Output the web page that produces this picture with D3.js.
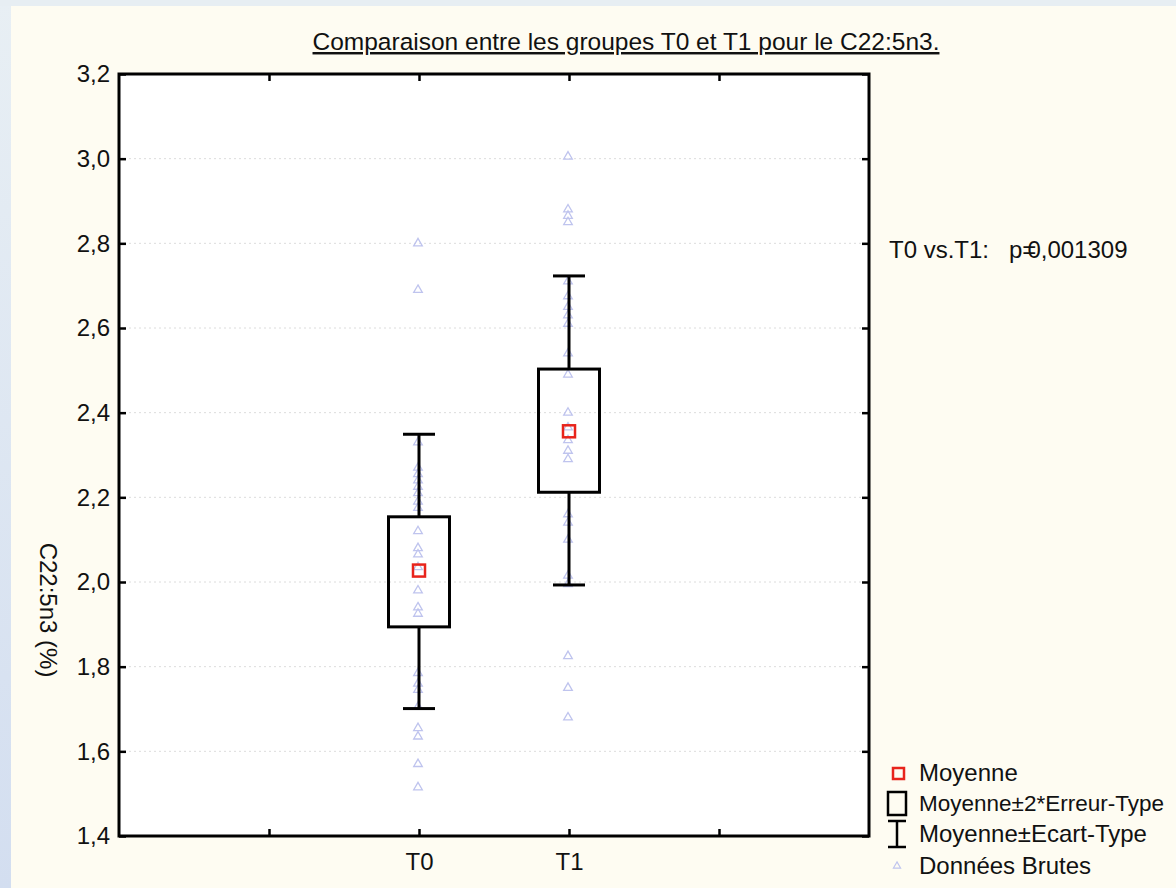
<!DOCTYPE html>
<html>
<head>
<meta charset="utf-8">
<script src="https://cdnjs.cloudflare.com/ajax/libs/d3/7.8.5/d3.min.js"></script>
<style>
body { margin: 0; background: #fefcf3; overflow: hidden; }
text { font-family: "Liberation Sans", Arial, sans-serif; fill: #111; }
</style>
</head>
<body>
<script>
// Data
var groups = ["T0", "T1"];
var groupPos = [2, 3];           // position of each group on the 0..5 category axis
var xTickPos = [1, 2, 3, 4];
var yTicks = [1.4, 1.6, 1.8, 2.0, 2.2, 2.4, 2.6, 2.8, 3.0, 3.2];

var means = [2.027, 2.356];
var se2Low = [1.894, 2.212];     // Moyenne - 2*Erreur-Type
var se2High = [2.154, 2.503];    // Moyenne + 2*Erreur-Type
var sdLow = [1.701, 1.993];      // Moyenne - Ecart-Type
var sdHigh = [2.349, 2.723];     // Moyenne + Ecart-Type

var rawT0 = [2.80, 2.69, 2.33, 2.27, 2.255, 2.24, 2.225, 2.21, 2.19, 2.175, 2.12, 2.08, 2.065,
    2.035, 1.98, 1.94, 1.925, 1.785, 1.76, 1.745, 1.705, 1.655, 1.635, 1.57, 1.515];
var rawT1 = [3.005, 2.88, 2.865, 2.85, 2.71, 2.675, 2.65, 2.63, 2.61, 2.54, 2.49, 2.40, 2.365,
    2.335, 2.31, 2.29, 2.16, 2.14, 2.10, 2.015, 1.995, 1.825, 1.75, 1.68];

var title = "Comparaison entre les groupes T0 et T1 pour le C22:5n3.";
var yLabel = "C22:5n3 (%)";
var pLabel = "T0 vs.T1:   p=";
var pValue = "0,001309";
var legendLabels = ["Moyenne", "Moyenne\u00b12*Erreur-Type", "Moyenne\u00b1Ecart-Type", "Donn\u00e9es Brutes"];

// Layout
var W = 1176, H = 888;
var plot = {left: 119, top: 74, right: 869, bottom: 836};
var fontSize = "24px";

var svg = d3.select("body").append("svg")
    .attr("width", W)
    .attr("height", H);

// Background: bluish page edge and cream panel
var grad = svg.append("defs").append("linearGradient")
    .attr("id", "edge")
    .attr("x1", 0).attr("y1", 0).attr("x2", 0).attr("y2", 1);
grad.append("stop").attr("offset", "0%").attr("stop-color", "#e8eff4");
grad.append("stop").attr("offset", "100%").attr("stop-color", "#d3def0");

svg.append("rect").attr("width", W).attr("height", H).attr("fill", "url(#edge)");
svg.append("rect").attr("x", 0).attr("y", 0).attr("width", W).attr("height", 6).attr("fill", "#e7eef3");
svg.append("rect").attr("x", 11).attr("y", 6).attr("width", W - 11).attr("height", H - 6).attr("fill", "#fefcf2");

// Scales
var x = d3.scaleLinear().domain([0, 5]).range([plot.left, plot.right]);
var y = d3.scaleLinear().domain([1.4, 3.2]).range([plot.bottom, plot.top]);

var fr = d3.formatLocale({decimal: ",", thousands: " ", grouping: [3], currency: ["", ""]});
var fmt = fr.format(".1f");

// Plot area
svg.append("rect")
    .attr("x", plot.left).attr("y", plot.top)
    .attr("width", plot.right - plot.left).attr("height", plot.bottom - plot.top)
    .attr("fill", "#fff");

// Dotted gridlines
svg.append("g").selectAll("line")
    .data(yTicks.slice(1, -1))
    .enter().append("line")
    .attr("x1", plot.left).attr("x2", plot.right)
    .attr("y1", function(d) { return y(d); })
    .attr("y2", function(d) { return y(d); })
    .attr("stroke", "#dcdcdc")
    .attr("stroke-width", 1)
    .attr("stroke-dasharray", "2,3");

// Raw data triangles
var rawAll = [rawT0, rawT1];
var tri = d3.symbol().type(d3.symbolTriangle).size(32);
rawAll.forEach(function(vals, i) {
    svg.append("g").selectAll("path")
        .data(vals)
        .enter().append("path")
        .attr("d", tri)
        .attr("transform", function(d) { return "translate(" + (x(groupPos[i]) - 1) + "," + y(d) + ")"; })
        .attr("fill", "none")
        .attr("stroke", "#bfc4ee")
        .attr("stroke-width", 1.3);
});

// Whiskers (Moyenne +/- Ecart-Type) and boxes (Moyenne +/- 2*Erreur-Type)
var boxW = 61, capW = 32;
var g = svg.append("g").attr("stroke", "#000").attr("stroke-width", 3).attr("fill", "none");
groups.forEach(function(name, i) {
    var cx = x(groupPos[i]);
    g.append("line").attr("x1", cx).attr("x2", cx).attr("y1", y(sdHigh[i])).attr("y2", y(se2High[i]));
    g.append("line").attr("x1", cx).attr("x2", cx).attr("y1", y(se2Low[i])).attr("y2", y(sdLow[i]));
    g.append("line").attr("x1", cx - capW / 2).attr("x2", cx + capW / 2).attr("y1", y(sdHigh[i])).attr("y2", y(sdHigh[i]));
    g.append("line").attr("x1", cx - capW / 2).attr("x2", cx + capW / 2).attr("y1", y(sdLow[i])).attr("y2", y(sdLow[i]));
    g.append("rect")
        .attr("x", cx - boxW / 2).attr("y", y(se2High[i]))
        .attr("width", boxW).attr("height", y(se2Low[i]) - y(se2High[i]));
});

// Means
svg.append("g").selectAll("rect")
    .data(means)
    .enter().append("rect")
    .attr("x", function(d, i) { return x(groupPos[i]) - 6; })
    .attr("y", function(d) { return y(d) - 6; })
    .attr("width", 12).attr("height", 12)
    .attr("fill", "none")
    .attr("stroke", "#e8241c")
    .attr("stroke-width", 2.5);

// Axes with inward ticks
var yAxisL = d3.axisLeft(y).tickValues(yTicks).tickSize(-7).tickPadding(9).tickFormat(fmt);
var yAxisR = d3.axisRight(y).tickValues(yTicks).tickSize(-7).tickFormat("");
var xAxisB = d3.axisBottom(x).tickValues(xTickPos).tickSize(-7).tickPadding(17)
    .tickFormat(function(d) { var k = groupPos.indexOf(d); return k < 0 ? "" : groups[k]; });
var xAxisT = d3.axisTop(x).tickValues(xTickPos).tickSize(-7).tickFormat("");

function styleAxis(sel) {
    sel.select(".domain").remove();
    sel.selectAll(".tick line").attr("stroke", "#000").attr("stroke-width", 2.5);
    sel.selectAll(".tick text").style("font-size", fontSize).attr("fill", "#111");
}

svg.append("g").attr("transform", "translate(" + plot.left + ",0)").call(yAxisL).call(styleAxis);
svg.append("g").attr("transform", "translate(" + plot.right + ",0)").call(yAxisR).call(styleAxis);
svg.append("g").attr("transform", "translate(0," + plot.bottom + ")").call(xAxisB).call(styleAxis);
svg.append("g").attr("transform", "translate(0," + plot.top + ")").call(xAxisT).call(styleAxis);

// Frame
svg.append("rect")
    .attr("x", plot.left).attr("y", plot.top)
    .attr("width", plot.right - plot.left).attr("height", plot.bottom - plot.top)
    .attr("fill", "none").attr("stroke", "#000").attr("stroke-width", 3);

// Title
svg.append("text")
    .attr("x", 626).attr("y", 50)
    .attr("text-anchor", "middle")
    .style("font-size", "24.5px")
    .style("text-decoration", "underline")
    .text(title);

// Y label
svg.append("text")
    .attr("transform", "translate(40,610) rotate(90)")
    .attr("text-anchor", "middle")
    .style("font-size", fontSize)
    .text(yLabel);

// p-value
var pt = svg.append("text")
    .attr("x", 889).attr("y", 258)
    .style("font-size", fontSize)
    .style("white-space", "pre");
pt.append("tspan").text(pLabel);
pt.append("tspan").attr("dx", -9).text(pValue);

// Legend
var lg = svg.append("g").attr("transform", "translate(889,0)");
var rowY = [773, 803, 834, 866];
lg.append("rect").attr("x", 4).attr("y", rowY[0] - 5).attr("width", 11).attr("height", 11)
    .attr("fill", "none").attr("stroke", "#e8241c").attr("stroke-width", 2.5);
lg.append("rect").attr("x", -1).attr("y", rowY[1] - 11).attr("width", 18).attr("height", 23)
    .attr("fill", "none").attr("stroke", "#000").attr("stroke-width", 2.5);
var wk = lg.append("g").attr("stroke", "#000").attr("stroke-width", 2.5);
wk.append("line").attr("x1", -1).attr("x2", 17).attr("y1", rowY[2] - 13).attr("y2", rowY[2] - 13);
wk.append("line").attr("x1", -1).attr("x2", 17).attr("y1", rowY[2] + 13).attr("y2", rowY[2] + 13);
wk.append("line").attr("x1", 8).attr("x2", 8).attr("y1", rowY[2] - 13).attr("y2", rowY[2] + 13);
lg.append("path").attr("d", d3.symbol().type(d3.symbolTriangle).size(22))
    .attr("transform", "translate(8," + rowY[3] + ")")
    .attr("fill", "none").attr("stroke", "#bfc4ee").attr("stroke-width", 1.2);
lg.selectAll(".lbl")
    .data(legendLabels)
    .enter().append("text")
    .attr("class", "lbl")
    .attr("x", 30)
    .attr("y", function(d, i) { return rowY[i] + 8; })
    .style("font-size", function(d, i) { return i === 1 ? "22.5px" : fontSize; })
    .text(function(d) { return d; });
</script>
</body>
</html>
